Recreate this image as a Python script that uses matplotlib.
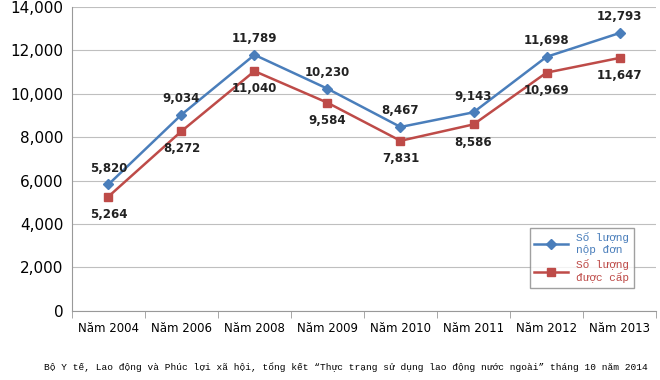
import matplotlib
matplotlib.use("Agg")
import matplotlib.pyplot as plt
from matplotlib.ticker import FuncFormatter, FixedLocator, NullFormatter
import numpy as np

categories = ["Năm 2004", "Năm 2006", "Năm 2008", "Năm 2009", "Năm 2010", "Năm 2011", "Năm 2012", "Năm 2013"]
applied = [5820, 9034, 11789, 10230, 8467, 9143, 11698, 12793]
granted = [5264, 8272, 11040, 9584, 7831, 8586, 10969, 11647]
series_names = ["Số lượng\nnộp đơn", "Số lượng\nđược cấp"]
footnote = "Bộ Y tế, Lao động và Phúc lợi xã hội, tổng kết “Thực trạng sử dụng lao động nước ngoài” tháng 10 năm 2014"

blue = "#4A7EBB"
red = "#BE4B48"
mono = ["Liberation Mono", "DejaVu Sans Mono", "Noto Sans"]

fig = plt.figure(figsize=(6.6, 3.8), dpi=100)
ax = fig.add_axes([0.109, 0.182, 0.885, 0.800])
x = np.arange(len(categories))

ax.plot(x, applied, color=blue, lw=1.8, marker="D", ms=5, label=series_names[0], zorder=3)
ax.plot(x, granted, color=red, lw=1.8, marker="s", ms=6, label=series_names[1], zorder=3)

for xi, v in zip(x, applied):
    ax.annotate(f"{v:,}", (xi, v), xytext=(0, 7), textcoords="offset points",
                ha="center", va="bottom", fontsize=8.5, fontweight="bold", color="#222222")
for xi, v in zip(x, granted):
    ax.annotate(f"{v:,}", (xi, v), xytext=(0, -8), textcoords="offset points",
                ha="center", va="top", fontsize=8.5, fontweight="bold", color="#222222")

ax.set_xlim(-0.5, len(categories) - 0.5)
ax.set_ylim(0, 14000)
ax.set_yticks(np.arange(0, 14001, 2000))
ax.yaxis.set_major_formatter(FuncFormatter(lambda v, p: f"{int(v):,}"))
ax.tick_params(axis="y", length=0, labelsize=11, pad=6)
ax.grid(axis="y", color="#BFBFBF", lw=0.8)
ax.set_axisbelow(True)

ax.set_xticks(x)
ax.set_xticklabels(categories, fontsize=8.5)
ax.tick_params(axis="x", length=0, pad=8)
ax.xaxis.set_minor_locator(FixedLocator(np.arange(-0.5, len(categories), 1)))
ax.xaxis.set_minor_formatter(NullFormatter())
ax.tick_params(axis="x", which="minor", length=5, color="#999999")

for s in ["top", "right"]:
    ax.spines[s].set_visible(False)
ax.spines["left"].set_color("#999999")
ax.spines["bottom"].set_color("#999999")

leg = ax.legend(loc="lower right", bbox_to_anchor=(0.962, 0.076), frameon=True,
                fancybox=False, edgecolor="#888888", handlelength=3, labelspacing=0.4,
                borderpad=0.4, borderaxespad=0, prop={"family": mono, "size": 8})
leg.get_frame().set_linewidth(1)
for t, c in zip(leg.get_texts(), [blue, red]):
    t.set_color(c)

fig.text(0.066, 0.035, footnote, ha="left", va="center", fontsize=6.8, family=mono)

fig.savefig("out.png", dpi=100)
